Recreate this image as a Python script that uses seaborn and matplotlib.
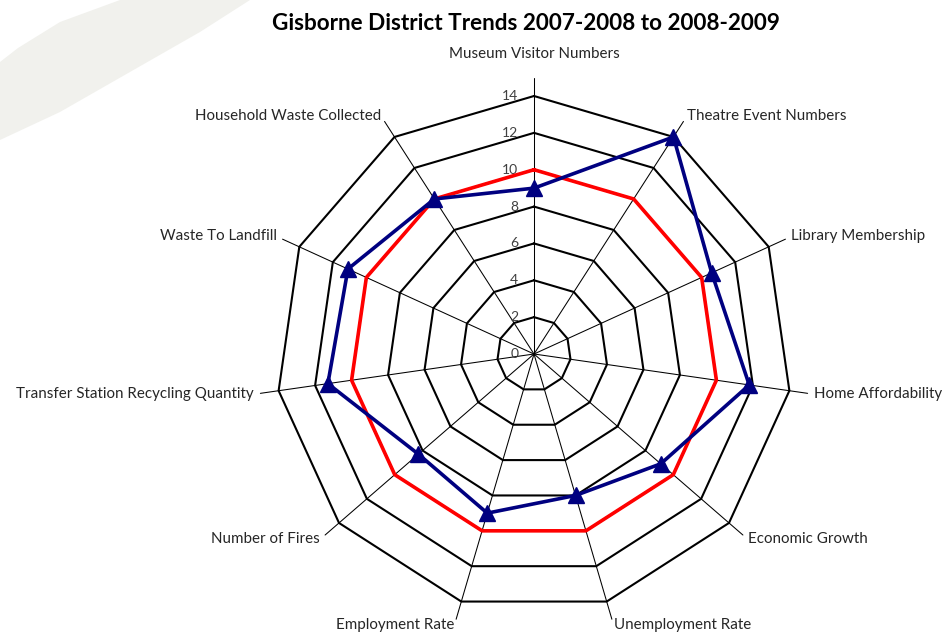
import numpy as np
import pandas as pd
import matplotlib
matplotlib.use("Agg")
import matplotlib.pyplot as plt
from matplotlib.patches import Polygon
import seaborn as sns

# ---------------- data ----------------
categories = [
    "Museum Visitor Numbers",
    "Theatre Event Numbers",
    "Library Membership",
    "Home Affordability",
    "Economic Growth",
    "Unemployment Rate",
    "Employment Rate",
    "Number of Fires",
    "Transfer Station Recycling Quantity",
    "Waste To Landfill",
    "Household Waste Collected",
]
base_2007_2008 = [10, 10, 10, 10, 10, 10, 10, 10, 10, 10, 10]
trend_2008_2009 = [9.0, 14.0, 10.6, 11.8, 9.1, 8.0, 9.0, 8.3, 11.3, 11.1, 10.0]
tick_values = [0, 2, 4, 6, 8, 10, 12, 14]
axis_max = 15
title = "Gisborne District Trends 2007-2008 to 2008-2009"

# ---------------- setup ----------------
sns.set_theme(style="white")
plt.rcParams["font.family"] = ["Lato", "DejaVu Sans"]

W, H = 947, 633
fig = plt.figure(figsize=(W / 100, H / 100), dpi=100)
fig.patch.set_facecolor("white")

# faint decorative swoosh (top-left)
sw = np.array([(0, 140), (60, 112), (130, 72), (200, 32), (250, 0),
               (120, 0), (60, 22), (18, 48), (0, 62)], dtype=float)
fig.patches.append(Polygon(np.column_stack([sw[:, 0] / W, 1 - sw[:, 1] / H]),
                           closed=True, transform=fig.transFigure,
                           facecolor="#f1f1ed", edgecolor="none", zorder=0))

cx, cy, half = 534, 354, 280
px_per_unit = 258 / 14
lim = half / px_per_unit
ax = fig.add_axes([(cx - half) / W, (H - cy - half) / H, 2 * half / W, 2 * half / H])
ax.patch.set_alpha(0)

N = len(categories)
theta = 2 * np.pi * np.arange(N) / N


def to_xy(values):
    r = np.asarray(values, dtype=float)
    x = r * np.sin(theta)
    y = r * np.cos(theta)
    return np.append(x, x[0]), np.append(y, y[0])


# polygon grid rings
for t in tick_values[1:]:
    gx, gy = to_xy([t] * N)
    ax.plot(gx, gy, color="black", lw=1.5, zorder=1, solid_joinstyle="miter")

# spokes
for th in theta:
    ax.plot([0, axis_max * np.sin(th)], [0, axis_max * np.cos(th)],
            color="black", lw=0.75, zorder=1)

# value tick labels
for t in tick_values:
    ax.text(-0.85, t, str(t), ha="right", va="center", fontsize=10,
            color="#404040", zorder=2)

# series
rx, ry = to_xy(base_2007_2008)
bx, by = to_xy(trend_2008_2009)
df_base = pd.DataFrame({"x": rx, "y": ry})
df_trend = pd.DataFrame({"x": bx, "y": by})
sns.lineplot(data=df_base, x="x", y="y", sort=False, color="#ff0000",
             lw=2.6, ax=ax, zorder=3, estimator=None)
sns.lineplot(data=df_trend, x="x", y="y", sort=False, color="#000080",
             lw=2.6, ax=ax, zorder=4, estimator=None)
ax.plot(bx[:-1], by[:-1], ls="none", marker="^", ms=12, color="#000080",
        mec="#000080", zorder=5)
ax.set_xlim(-lim, lim)
ax.set_ylim(-lim, lim)
ax.axis("off")

# category labels
for th, lab in zip(theta, categories):
    s, c = np.sin(th), np.cos(th)
    if abs(s) < 0.05:
        r = 16.3
        ha = "center"
    else:
        r = 15.35
        ha = "left" if s > 0 else "right"
    ax.text(r * s, r * c, lab, ha=ha, va="center", fontsize=10.9,
            color="#262626", clip_on=False, zorder=6)

fig.text(526 / W, 1 - 23 / H, title, ha="center", va="center",
         fontsize=16.2, fontweight="bold", color="black")

fig.savefig("out.png", dpi=100, facecolor="white")
